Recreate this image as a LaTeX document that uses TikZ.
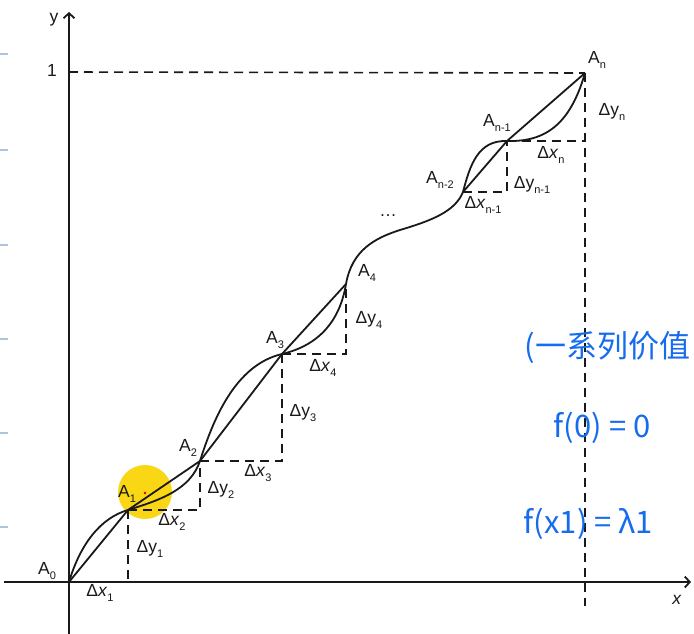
\documentclass[tikz,border=0pt]{standalone}
\usepackage{fontspec}
\setmainfont{Liberation Sans}
\newfontfamily\cjk{Noto Sans CJK SC}
\usetikzlibrary{arrows.meta}
\definecolor{ink}{RGB}{25,25,25}
\definecolor{pen}{RGB}{22,108,238}
\definecolor{hl}{RGB}{250,215,20}
\definecolor{uitick}{RGB}{175,195,222}
\newcommand\sbx[1]{\raisebox{-0.45ex}{\fontsize{11}{11}\selectfont #1}}
\begin{document}
\begin{tikzpicture}[x=1pt,y=-1pt,line width=1.8pt,draw=ink,
  lbl/.style={font=\fontsize{17.5}{17.5}\selectfont,text=ink,inner sep=0pt},
  dline/.style={dash pattern=on 9pt off 6pt,line width=1.6pt},
  axis/.style={line width=1.8pt,-{Straight Barb[length=5pt,width=11pt]}},
  hand/.style={text=pen,font=\cjk\fontsize{31}{31}\selectfont,inner sep=0pt,anchor=west}]
\useasboundingbox (0,0) rectangle (694,633);
\clip (0,0) rectangle (694,633);
\fill[white] (0,0) rectangle (694,633);
% screen ticks
\foreach \yy in {54,150,245,339,433,527}
  \draw[uitick,line width=2pt] (0,\yy) -- (8,\yy);
% highlight
\fill[hl] (145,492) circle[radius=27pt];
\fill[red!80!black] (145,493) circle[radius=1.3pt];
% points
\coordinate (A0) at (69,582);
\coordinate (A1) at (128,510);
\coordinate (A2) at (200,461);
\coordinate (A3) at (282,354);
\coordinate (A4) at (346,284);
\coordinate (B2) at (463,192);
\coordinate (B1) at (507,141);
\coordinate (An) at (585,73);
\coordinate (xl) at (4,582);
\coordinate (xr) at (691,582);
\coordinate (yb) at (69,640);
\coordinate (yt) at (69,12);
\coordinate (one) at (69,72);
\coordinate (Anb) at (585,606);
% axes
\draw[axis] (xl) -- (xr);
\draw[axis] (yb) -- (yt);
% dashed
\draw[dline] (one) -- (An);
\draw[dline] (An) -- (Anb);
\draw[dline] (A1) -- (A1|-A0);
\draw[dline] (A1) -- (A1-|A2) -- (A2);
\draw[dline] (A2) -- (A2-|A3) -- (A3);
\draw[dline] (A3) -- (A3-|A4) -- (A4);
\draw[dline] (B2) -- (B2-|B1) -- (B1);
\draw[dline] (B1) -- (B1-|An);
% chords
\draw (A0) -- (A1) -- (A2) -- (A3) -- (A4);
\draw (B2) -- (B1) -- (An);
% curve
\draw (A0) .. controls (80,545) and (100,518) .. (A1)
  .. controls (160,500) and (190,490) .. (A2)
  .. controls (213,420) and (235,365) .. (A3)
  .. controls (320,345) and (340,320) .. (A4)
  .. controls (352,250) and (375,238) .. (400,230)
  .. controls (430,221) and (455,212) .. (B2)
  .. controls (470,165) and (478,140) .. (B1)
  .. controls (545,142) and (570,125) .. (An);
% labels
\node[lbl] (l0) at (47,571) {A\sbx{0}};
\node[lbl] (l1) at (127,494) {A\sbx{1}};
\node[lbl] (l2) at (188,448) {A\sbx{2}};
\node[lbl] (l3) at (275,340) {A\sbx{3}};
\node[lbl] (l4) at (367,273) {A\sbx{4}};
\node[lbl] (lb2) at (440,180) {A\sbx{n-2}};
\node[lbl] (lb1) at (497,123) {A\sbx{n-1}};
\node[lbl] (ln) at (597,60) {A\sbx{n}};
\node[lbl] (dx1) at (100,593) {Δ\textit{x}\sbx{1}};
\node[lbl] (dy1) at (150,549) {Δy\sbx{1}};
\node[lbl] (dx2) at (172,522) {Δ\textit{x}\sbx{2}};
\node[lbl] (dy2) at (221,490) {Δy\sbx{2}};
\node[lbl] (dx3) at (258,473) {Δ\textit{x}\sbx{3}};
\node[lbl] (dy3) at (303,413) {Δy\sbx{3}};
\node[lbl] (dx4) at (323,368) {Δ\textit{x}\sbx{4}};
\node[lbl] (dy4) at (369,320) {Δy\sbx{4}};
\node[lbl] (dots) at (388,216) {…};
\node[lbl] (dxb1) at (483,205) {Δ\textit{x}\sbx{n-1}};
\node[lbl] (dyb1) at (532,185) {Δy\sbx{n-1}};
\node[lbl] (dxn) at (551,155) {Δ\textit{x}\sbx{n}};
\node[lbl] (dyn) at (612,112) {Δy\sbx{n}};
\node[lbl] (lone) at (52,70) {1};
\node[lbl] (ly) at (54,20) {y};
\node[lbl] (lx) at (677,600) {\textit{x}};
% handwriting
\node[hand] (t1) at (524,347) {(一系列价值};
\node[hand] (t2) at (553,428) {f(0) = 0};
\node[hand] (t3) at (523,524) {f(x1) = λ1};
\end{tikzpicture}
\end{document}
